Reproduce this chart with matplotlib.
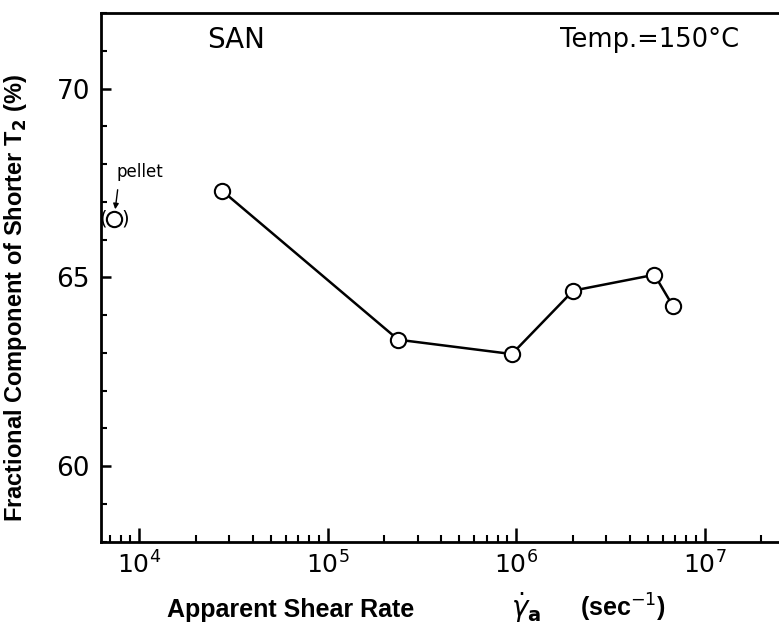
import matplotlib
matplotlib.use("Agg")
import matplotlib.pyplot as plt
from matplotlib.ticker import LogLocator, MultipleLocator, NullFormatter

# === Data ===
shear_rate = [2.75e4, 2.37e5, 9.5e5, 2.01e6, 5.42e6, 6.78e6]
fraction = [67.3, 63.35, 62.97, 64.65, 65.07, 64.25]
pellet_rate = 7.36e3
pellet_fraction = 66.55

y_ticks = [60, 65, 70]

fig = plt.figure(figsize=(7.79, 6.26), dpi=100)
ax = fig.add_axes([0.1297, 0.1347, 0.8703, 0.8443])

ax.plot(shear_rate, fraction, color="black", lw=1.8, marker="o", ms=11,
        mfc="white", mec="black", mew=1.5, zorder=3)
ax.plot([pellet_rate], [pellet_fraction], ls="none", marker="o", ms=11,
        mfc="white", mec="black", mew=1.5, zorder=3)

ax.set_xscale("log")
ax.set_xlim(10 ** 3.798, 10 ** 7.395)
ax.set_ylim(58, 72)
ax.set_yticks(y_ticks)
ax.yaxis.set_minor_locator(MultipleLocator(1))
ax.xaxis.set_major_locator(LogLocator(base=10))
ax.xaxis.set_minor_locator(LogLocator(base=10, subs=range(2, 10)))
ax.xaxis.set_minor_formatter(NullFormatter())

for side in ["left", "bottom", "top"]:
    ax.spines[side].set_linewidth(2)
ax.spines["right"].set_visible(False)

ax.tick_params(axis="both", which="both", direction="in", top=False, right=False)
ax.tick_params(axis="x", which="major", length=10, width=1.8, labelsize=18, pad=7)
ax.tick_params(axis="x", which="minor", length=5, width=1.5)
ax.tick_params(axis="y", which="major", length=7, width=1.8, labelsize=19, pad=8)
ax.tick_params(axis="y", which="minor", length=4, width=1.5)

ax.set_ylabel("Fractional Component of Shorter T$_\\mathbf{2}$ (%)",
              fontfamily="Liberation Sans", fontweight="bold", fontsize=17)
ax.yaxis.set_label_coords(-0.106, 0.46)

# x label in three pieces
base_y = 1 - 617 / 626
fig.text(167 / 779, base_y, "Apparent Shear Rate", fontfamily="Liberation Sans",
         fontweight="bold", fontsize=18, ha="left", va="baseline")
fig.text(526 / 779, base_y, r"$\dot{\gamma}_{\mathbf{a}}$", fontsize=20,
         ha="center", va="baseline")
fig.text(580 / 779, base_y, "(sec$^{-1}$)", fontfamily="Liberation Sans",
         fontweight="bold", fontsize=18, ha="left", va="baseline")

ax.text(207 / 779, 1 - 40 / 626, "SAN", transform=fig.transFigure, fontsize=20,
        ha="left", va="center")
ax.text(560 / 779, 1 - 40 / 626, "Temp.=150°C", transform=fig.transFigure, fontsize=18.5,
        ha="left", va="center")

# pellet annotation
ax.annotate("pellet", xy=(pellet_rate, pellet_fraction), xytext=(140 / 779, 1 - 177 / 626),
            textcoords="figure fraction", fontsize=12, ha="center", va="baseline")
ax.annotate("", xy=(pellet_rate, pellet_fraction), xytext=(118 / 779, 1 - 187 / 626),
            textcoords="figure fraction",
            arrowprops=dict(arrowstyle="-|>", color="black", lw=1, mutation_scale=8,
                            shrinkB=7))
ax.annotate("(", xy=(pellet_rate, pellet_fraction), xytext=(-5.5, 0),
            textcoords="offset points", fontsize=14, ha="right", va="center")
ax.annotate(")", xy=(pellet_rate, pellet_fraction), xytext=(5.5, 0),
            textcoords="offset points", fontsize=14, ha="left", va="center")

fig.savefig("out.png", dpi=100)
